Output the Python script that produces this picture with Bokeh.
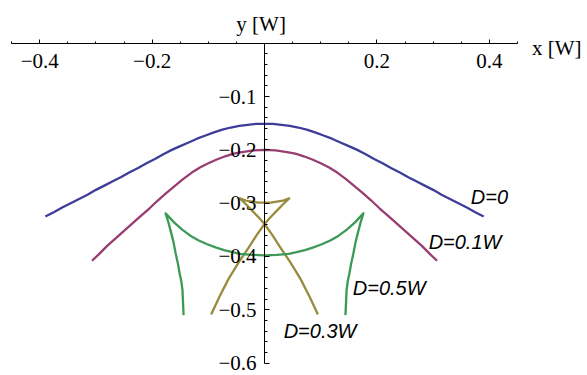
from bokeh.plotting import figure
from bokeh.models import LinearAxis, FixedTicker, Label
from bokeh.embed import file_html
from bokeh.resources import INLINE

# ---- data ----
# D = 0 (blue), left half read, right half mirrors the picture
d0_x_half = [-0.390, -0.375, -0.360, -0.345, -0.330, -0.315, -0.300, -0.285, -0.270, -0.255, -0.240,
             -0.225, -0.210, -0.195, -0.180, -0.165, -0.150, -0.135, -0.120, -0.105, -0.090, -0.075,
             -0.060, -0.045, -0.030, -0.015, 0.0]
d0_y_half = [-0.325, -0.317, -0.308, -0.300, -0.292, -0.284, -0.275, -0.267, -0.259, -0.251, -0.242,
             -0.234, -0.225, -0.217, -0.208, -0.200, -0.193, -0.186, -0.179, -0.173, -0.167, -0.162,
             -0.158, -0.155, -0.153, -0.151, -0.151]

# D = 0.1W (purple)
d01_x_half = [-0.307, -0.295, -0.280, -0.265, -0.250, -0.235, -0.220, -0.205, -0.190, -0.175, -0.160,
              -0.145, -0.130, -0.115, -0.100, -0.085, -0.070, -0.055, -0.040, -0.020, 0.0]
d01_y_half = [-0.408, -0.396, -0.380, -0.366, -0.352, -0.338, -0.324, -0.310, -0.295, -0.281, -0.268,
              -0.255, -0.243, -0.233, -0.225, -0.218, -0.212, -0.207, -0.204, -0.201, -0.200]

# D = 0.3W (olive, swallowtail): bottom-left -> right cusp -> arc -> left cusp -> bottom-right
d03_x = [-0.095, -0.080, -0.064, -0.046, -0.028, -0.014, 0.0, 0.011, 0.022, 0.033, 0.044,
         0.033, 0.022, 0.011, 0.0, -0.011, -0.022, -0.033, -0.044,
         -0.033, -0.022, -0.011, 0.0, 0.014, 0.028, 0.046, 0.064, 0.080, 0.095]
d03_y = [-0.509, -0.475, -0.442, -0.411, -0.383, -0.360, -0.339, -0.326, -0.314, -0.302, -0.291,
         -0.295, -0.297, -0.299, -0.299, -0.299, -0.297, -0.295, -0.291,
         -0.302, -0.314, -0.326, -0.339, -0.360, -0.383, -0.411, -0.442, -0.475, -0.509]

# D = 0.5W (green): bottom-left -> left cusp -> arc -> right cusp -> bottom-right
d05_x = [-0.144, -0.145, -0.146, -0.148, -0.151, -0.154, -0.158, -0.162, -0.167, -0.171, -0.176,
         -0.168, -0.161, -0.147, -0.132, -0.117, -0.102, -0.087, -0.072, -0.057, -0.043, -0.022, 0.0,
         0.022, 0.043, 0.057, 0.072, 0.087, 0.102, 0.117, 0.132, 0.147, 0.161, 0.168,
         0.176, 0.171, 0.167, 0.162, 0.158, 0.154, 0.151, 0.148, 0.146, 0.145, 0.144]
d05_y = [-0.510, -0.487, -0.463, -0.447, -0.432, -0.414, -0.395, -0.373, -0.352, -0.336, -0.319,
         -0.328, -0.336, -0.349, -0.361, -0.370, -0.377, -0.383, -0.388, -0.392, -0.395, -0.397, -0.398,
         -0.397, -0.395, -0.392, -0.388, -0.383, -0.377, -0.370, -0.361, -0.349, -0.336, -0.328,
         -0.319, -0.336, -0.352, -0.373, -0.395, -0.414, -0.432, -0.447, -0.463, -0.487, -0.510]

curve_names = ["D=0", "D=0.1W", "D=0.3W", "D=0.5W"]

x_major = [-0.4, -0.2, 0.2, 0.4]
x_minor = [-0.45, -0.35, -0.3, -0.25, -0.15, -0.1, -0.05, 0.05, 0.1, 0.15, 0.25, 0.3, 0.35, 0.45]
x_labels = ["\u22120.4", "\u22120.2", "0.2", "0.4"]

y_major = [-0.1, -0.2, -0.3, -0.4, -0.5, -0.6]
y_minor = [-0.02, -0.04, -0.06, -0.08, -0.12, -0.14, -0.16, -0.18, -0.22, -0.24, -0.26, -0.28,
           -0.32, -0.34, -0.36, -0.38, -0.42, -0.44, -0.46, -0.48, -0.52, -0.54, -0.56, -0.58]
y_labels = ["\u22120.1", "\u22120.2", "\u22120.3", "\u22120.4", "\u22120.5", "\u22120.6"]

# full curves (the pictured curves are symmetric about x = 0)
d0_x = d0_x_half + [-v for v in reversed(d0_x_half[:-1])]
d0_y = d0_y_half + list(reversed(d0_y_half[:-1]))
d01_x = d01_x_half + [-v for v in reversed(d01_x_half[:-1])]
d01_y = d01_y_half + list(reversed(d01_y_half[:-1]))

# ---- figure: frame spans the whole canvas, axes drawn through the origin ----
p = figure(width=587, height=375, x_range=(-0.4698, 0.5747), y_range=(-0.6233, 0.0803),
           x_axis_type=None, y_axis_type=None, toolbar_location=None,
           output_backend="svg", min_border=0, outline_line_color=None,
           background_fill_color="white", border_fill_color="white")

SERIF = "Liberation Serif"

xaxis = LinearAxis(fixed_location=0, bounds=(-0.45, 0.45),
                   ticker=FixedTicker(ticks=x_major, minor_ticks=x_minor),
                   major_label_overrides={t: l for t, l in zip(x_major, x_labels)},
                   major_tick_in=4, major_tick_out=0, minor_tick_in=2, minor_tick_out=0,
                   major_label_standoff=11, major_label_text_font=SERIF,
                   major_label_text_font_size="21px", major_label_text_color="black",
                   axis_line_color="black", major_tick_line_color="black",
                   minor_tick_line_color="black")
p.add_layout(xaxis, "below")

yaxis = LinearAxis(fixed_location=0, bounds=(-0.6, 0.0),
                   ticker=FixedTicker(ticks=y_major, minor_ticks=y_minor),
                   major_label_overrides={t: l for t, l in zip(y_major, y_labels)},
                   major_tick_in=5, major_tick_out=0, minor_tick_in=3, minor_tick_out=0,
                   major_label_standoff=8, major_label_text_font=SERIF,
                   major_label_text_font_size="21px", major_label_text_color="black",
                   axis_line_color="black", major_tick_line_color="black",
                   minor_tick_line_color="black")
p.add_layout(yaxis, "left")

colors = ["#3D3D99", "#993D71", "#998B3D", "#3D9956"]
for xs, ys, c in zip([d0_x, d01_x, d03_x, d05_x], [d0_y, d01_y, d03_y, d05_y], colors):
    p.line(xs, ys, line_color=c, line_width=2.3, line_join="round")

# axis labels
p.add_layout(Label(x=0.476, y=-0.0086, text="x [W]", text_font=SERIF, text_font_size="21px",
                   text_align="left", text_baseline="alphabetic", text_color="black"))
p.add_layout(Label(x=-0.006, y=0.037, text="y [W]", text_font=SERIF, text_font_size="21px",
                   text_align="center", text_baseline="alphabetic", text_color="black"))

# curve labels
label_pos = [(0.367, -0.289), (0.292, -0.373), (0.034, -0.540), (0.157, -0.460)]
for name, (lx, ly) in zip(curve_names, label_pos):
    p.add_layout(Label(x=lx, y=ly, text=name, text_font="Liberation Sans", text_font_style="italic",
                       text_font_size="20px", text_align="left", text_baseline="middle",
                       text_color="black"))

open("out.html", "w").write(file_html(p, INLINE))
